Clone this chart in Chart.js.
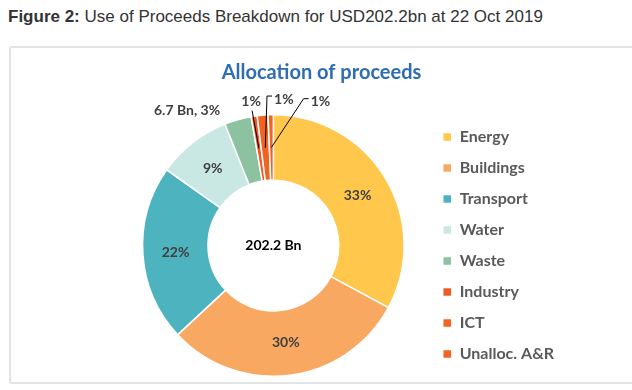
<!DOCTYPE html>
<html>
<head>
<meta charset="utf-8">
<script src="https://cdn.jsdelivr.net/npm/chart.js@4"></script>
<style>
 body{margin:0; background:#fff; width:632px; height:390px; overflow:hidden; position:relative;}
 .cap{position:absolute; left:8px; top:7px; font-family:"Liberation Sans", Arial, sans-serif; font-size:17px; color:#333;}
 .cap b{font-weight:bold;}
 .frame{position:absolute; left:9px; top:46px; width:640px; height:334px; border:2px solid #e4e4e4; border-radius:3px;}
 .wrap{position:absolute; left:11px; top:48px; width:621px; height:334px;}
</style>
</head>
<body>
<div class="cap"><b>Figure 2:</b> Use of Proceeds Breakdown for USD202.2bn at 22 Oct 2019</div>
<div class="frame"></div>
<div class="wrap"><canvas id="c" width="621" height="334"></canvas></div>
<script>
// datos (USD bn)
const categorias = ["Energy","Buildings","Transport","Water","Waste","Industry","ICT","Unalloc. A&R"];
const valores = [66.5, 61.0, 44.0, 18.5, 6.7, 1.5, 2.7, 1.3];
const etiquetas = ["33%","30%","22%","9%","6.7 Bn, 3%","1%","1%","1%"];
const colores = ["#FFC84C","#F9A861","#4DB3BE","#C9E8E4","#8CC2A0","#F05A28","#F26322","#F26322"];
const total = "202.2 Bn";

// offsets de etiquetas fuera del anillo (en radios), null = dentro
const fuera = [null,null,null,null,[-0.66,-1.03],[-0.17,-1.1],[0.08,-1.12],[0.36,-1.1]];

const FONT = "Lato, 'Open Sans', sans-serif";

// centrar el titulo sobre todo el canvas (no solo el area con padding)
const tituloCentro = {
  id: "tituloCentro",
  afterLayout(chart){
    const t = chart.titleBlock;
    if(!t) return;
    t.left = 0; t.right = chart.width; t.width = chart.width;
  }
};

const etiquetasPlugin = {
  id: "etiquetas",
  afterDatasetsDraw(chart){
    const ctx = chart.ctx;
    const meta = chart.getDatasetMeta(0);
    const a0 = meta.data[0];
    const cx = a0.x, cy = a0.y, R = a0.outerRadius;
    ctx.save();
    ctx.textAlign = "center";
    ctx.textBaseline = "middle";
    // texto central
    ctx.font = "bold 14px " + FONT;
    ctx.fillStyle = "#000";
    ctx.fillText(total, cx, cy);
    ctx.font = "bold 14px " + FONT;
    meta.data.forEach((arc, i) => {
      const p = arc.tooltipPosition();
      ctx.fillStyle = "#404040";
      if(!fuera[i]){
        ctx.fillText(etiquetas[i], p.x, p.y);
        return;
      }
      const lx = cx + fuera[i][0]*R, ly = cy + fuera[i][1]*R;
      ctx.fillText(etiquetas[i], lx, ly);
      if(i < 5) return;
      // lineas guia
      const mid = (arc.startAngle + arc.endAngle)/2;
      const rr = (arc.innerRadius + arc.outerRadius)/2;
      const ax = cx + Math.cos(mid)*rr, ay = cy + Math.sin(mid)*rr;
      const w = ctx.measureText(etiquetas[i]).width;
      ctx.strokeStyle = "#000";
      ctx.lineWidth = 1;
      ctx.beginPath();
      if(i === 5){
        ctx.moveTo(lx + 1, ly + 9);
        ctx.lineTo(ax, ay);
      } else {
        const ex = lx - w/2 - 2;
        ctx.moveTo(ex, ly - 3);
        ctx.lineTo(ex - 5, ly - 3);
        ctx.lineTo(ax, ay);
      }
      ctx.stroke();
    });
    ctx.restore();
  }
};

new Chart(document.getElementById("c"), {
  type: "doughnut",
  data: {
    labels: categorias,
    datasets: [{
      data: valores,
      backgroundColor: colores,
      borderColor: "#fff",
      borderWidth: 1.5
    }]
  },
  options: {
    responsive: false,
    animation: false,
    cutout: "50%",
    layout: { padding: { left: 108, right: 68, top: 0, bottom: 5 } },
    plugins: {
      title: {
        display: true,
        text: "Allocation of proceeds",
        color: "#2E6DB4",
        font: { family: FONT, size: 20, weight: "bold" },
        padding: { top: 13, bottom: 29 }
      },
      legend: {
        position: "right",
        fullSize: false,
        labels: {
          boxWidth: 9,
          boxHeight: 9,
          padding: 15,
          color: "#595959",
          font: { family: FONT, size: 16, weight: "bold" }
        }
      },
      tooltip: { enabled: false }
    }
  },
  plugins: [tituloCentro, etiquetasPlugin]
});
</script>
</body>
</html>
